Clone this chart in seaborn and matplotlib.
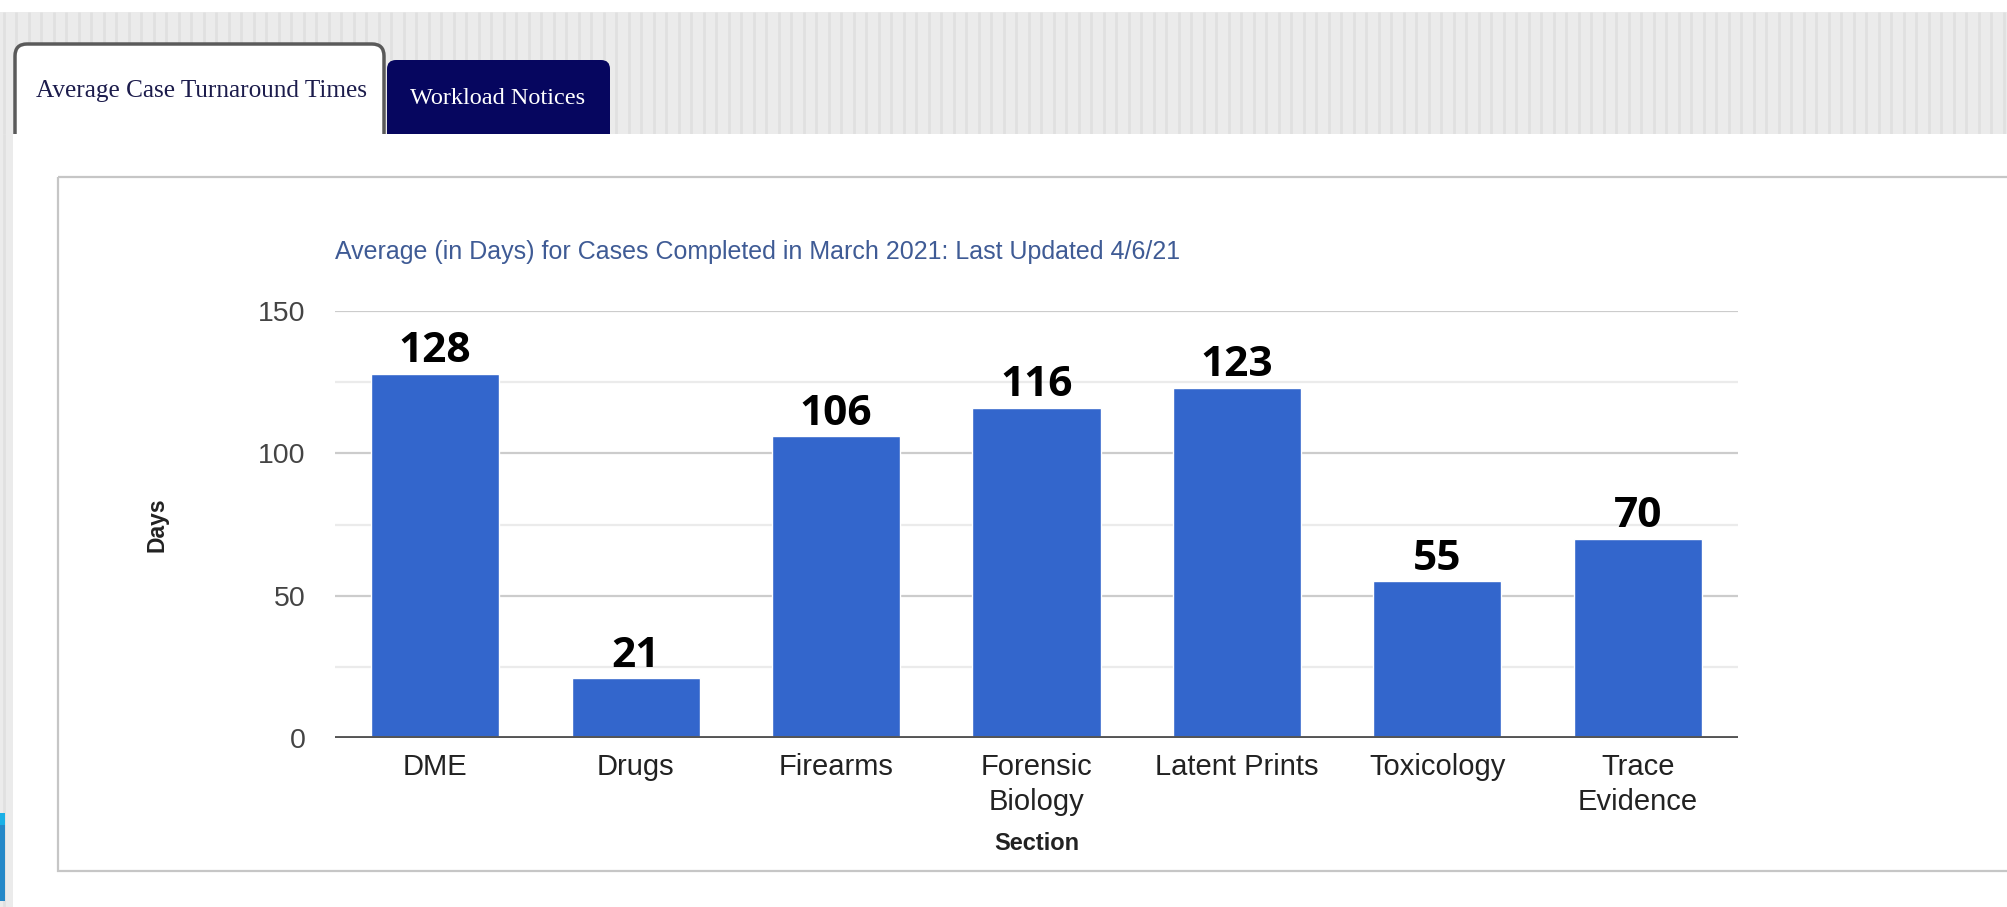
#%% ----------------- Libraries -----------------------------
import numpy as np
import pandas as pd
import matplotlib
matplotlib.use('Agg')
import matplotlib.pyplot as plt
from matplotlib.patches import Rectangle, FancyBboxPatch
import seaborn as sns

#%% ----------------- Data -----------------------------
sections = ['DME', 'Drugs', 'Firearms', 'Forensic\nBiology', 'Latent Prints', 'Toxicology', 'Trace\nEvidence']
avg_days = [128, 21, 106, 116, 123, 55, 70]
major_ticks = [0, 50, 100, 150]
minor_ticks = [25, 75, 125]
tab_labels = ['Average Case Turnaround Times', 'Workload Notices']
chart_title = 'Average (in Days) for Cases Completed in March 2021: Last Updated 4/6/21'

df = pd.DataFrame({'Section': sections, 'Days': avg_days})

#%% ----------------- Style -----------------------------
sns.set_style('white')
plt.rcParams['font.family'] = ['Liberation Sans', 'DejaVu Sans']

W, H = 2008, 907
fig = plt.figure(figsize=(W / 100, H / 100), dpi=100)

# page chrome drawn in pixel coordinates
bg = fig.add_axes([0, 0, 1, 1], zorder=0)
bg.set_xlim(0, W)
bg.set_ylim(H, 0)
bg.axis('off')

# textured grey band behind the tabs
bg.add_patch(Rectangle((0, 12), W, 122, facecolor='#ebebeb', edgecolor='none', zorder=1))
bg.add_patch(Rectangle((0, 134), 13, H - 134, facecolor='#ebebeb', edgecolor='none', zorder=1))
stripes = np.arange(4, W, 12.5)
bg.vlines(stripes, 12, 134, color='#e0e0e0', lw=2.0, zorder=1.5)
bg.vlines(stripes[:1], 134, H, color='#e0e0e0', lw=2.0, zorder=1.5)

# tabs
bg.add_patch(FancyBboxPatch((15, 44), 369, 140, boxstyle='round,pad=0,rounding_size=12',
                            facecolor='white', edgecolor='#5a5a5a', lw=2.5, zorder=2))
bg.add_patch(FancyBboxPatch((387, 60), 223, 120, boxstyle='round,pad=0,rounding_size=9',
                            facecolor='#06065f', edgecolor='none', zorder=2))

# white panel and chart container
bg.add_patch(Rectangle((13, 134), W, H - 137, facecolor='white', edgecolor='none', zorder=3))
bg.add_patch(Rectangle((58, 177), W, 694, facecolor='none', edgecolor='#c6c6c6', lw=1.6, zorder=4))

# small blue element at the bottom-left edge
bg.add_patch(Rectangle((0, 813), 5, 12, facecolor='#1ab0e6', edgecolor='none', zorder=4))
bg.add_patch(Rectangle((0, 825), 5, 76, facecolor='#2588c8', edgecolor='none', zorder=4))

bg.text(36, 91, tab_labels[0], family='Liberation Serif', fontsize=18.2,
        color='#1c1c4c', va='center', ha='left', zorder=5)
bg.text(498, 98, tab_labels[1], family='Liberation Serif', fontsize=17.5,
        color='white', va='center', ha='center', zorder=5)

bg.text(335, 252, chart_title, fontsize=18, color='#3f5b95', va='center', ha='left', zorder=5)

#%% ----------------- Bar chart -----------------------------
ax = fig.add_axes([335 / W, (H - 738) / H, 1403 / W, 427 / H], zorder=1)
ax.patch.set_alpha(0)

sns.barplot(data=df, x='Section', y='Days', color='#3366cc', saturation=1,
            width=0.64, ax=ax, zorder=3)

ax.set_ylim(0, 150)
ax.set_xlim(-0.5, len(sections) - 0.5)
ax.set_yticks(major_ticks)
ax.set_yticks(minor_ticks, minor=True)
ax.grid(which='major', axis='y', color='#cccccc', lw=1.6, zorder=0)
ax.grid(which='minor', axis='y', color='#ebebeb', lw=1.6, zorder=0)
ax.axhline(0, color='#555555', lw=2.8, zorder=4)
sns.despine(ax=ax, left=True, bottom=True)

ax.tick_params(axis='y', which='both', length=0, labelsize=20.5, labelcolor='#444444', pad=21)
ax.tick_params(axis='x', length=0, labelsize=21, labelcolor='#222222', pad=11)
for lbl in ax.get_xticklabels():
    lbl.set_linespacing(1.3)

ax.set_xlabel('Section', fontsize=17, fontweight='bold', color='#222222', va='center')
ax.xaxis.set_label_coords(0.5, -(844 - 738) / 427)
ax.set_ylabel('Days', fontsize=16.5, fontweight='bold', color='#222222', va='center')
ax.yaxis.set_label_coords(-(335 - 157) / 1403, 0.5)

# value labels above the bars
ax.bar_label(ax.containers[0], labels=[str(v) for v in avg_days], padding=1,
             fontsize=30.5, fontweight='bold', color='black', family='Open Sans')

fig.savefig('out.png', dpi=100)
